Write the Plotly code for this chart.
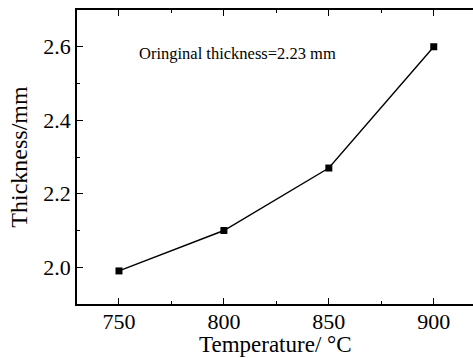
import plotly.graph_objects as go

temperature = [750, 800, 850, 900]
thickness = [1.99, 2.10, 2.27, 2.60]
x_ticks = [750, 800, 850, 900]
y_ticks = [2.0, 2.2, 2.4, 2.6]
note = "Oringinal thickness=2.23 mm"
x_title = "Temperature/ °C"
y_title = "Thickness/mm"

FONT = "Liberation Serif, Times New Roman, serif"

fig = go.Figure()
fig.add_trace(go.Scatter(
    x=temperature, y=thickness, mode="lines+markers",
    line=dict(color="black", width=1.4),
    marker=dict(symbol="square", size=7, color="black"),
    showlegend=False,
))

fig.add_annotation(
    x=758.7, y=2.583, text=note, showarrow=False,
    xanchor="left", yanchor="middle",
    font=dict(family=FONT, size=16.5, color="black"),
)
# x-axis title placed just under the tick labels
fig.add_annotation(
    x=0.5, y=0, xref="paper", yref="paper", yshift=-55,
    text=x_title, showarrow=False, xanchor="center", yanchor="bottom",
    font=dict(family=FONT, size=23, color="black"),
)

fig.update_layout(
    width=473, height=358,
    margin=dict(l=77, r=0, t=10, b=54),
    paper_bgcolor="white", plot_bgcolor="white",
    font=dict(family=FONT, color="black"),
)
fig.update_xaxes(
    range=[730, 918.7], tickvals=x_ticks, ticktext=[str(v) for v in x_ticks],
    showgrid=False, zeroline=False,
    showline=True, linecolor="black", linewidth=1.5, mirror="ticks",
    ticks="inside", ticklen=6, tickwidth=1, tickcolor="black",
    minor=dict(tickvals=[775, 825, 875], ticks="inside", ticklen=3, tickcolor="black"),
    tickfont=dict(family=FONT, size=22, color="black"),
    ticklabelstandoff=-3,
)
fig.update_yaxes(
    range=[1.9, 2.7], tickvals=y_ticks, ticktext=[f"{v:.1f}" for v in y_ticks],
    showgrid=False, zeroline=False,
    showline=True, linecolor="black", linewidth=1.5, mirror=False,
    ticks="inside", ticklen=6, tickwidth=1, tickcolor="black",
    minor=dict(tickvals=[2.1, 2.3, 2.5], ticks="inside", ticklen=3, tickcolor="black"),
    tickfont=dict(family=FONT, size=22, color="black"),
    title=dict(text=y_title, font=dict(family=FONT, size=24, color="black"), standoff=9),
)

fig.write_html("out.html")
